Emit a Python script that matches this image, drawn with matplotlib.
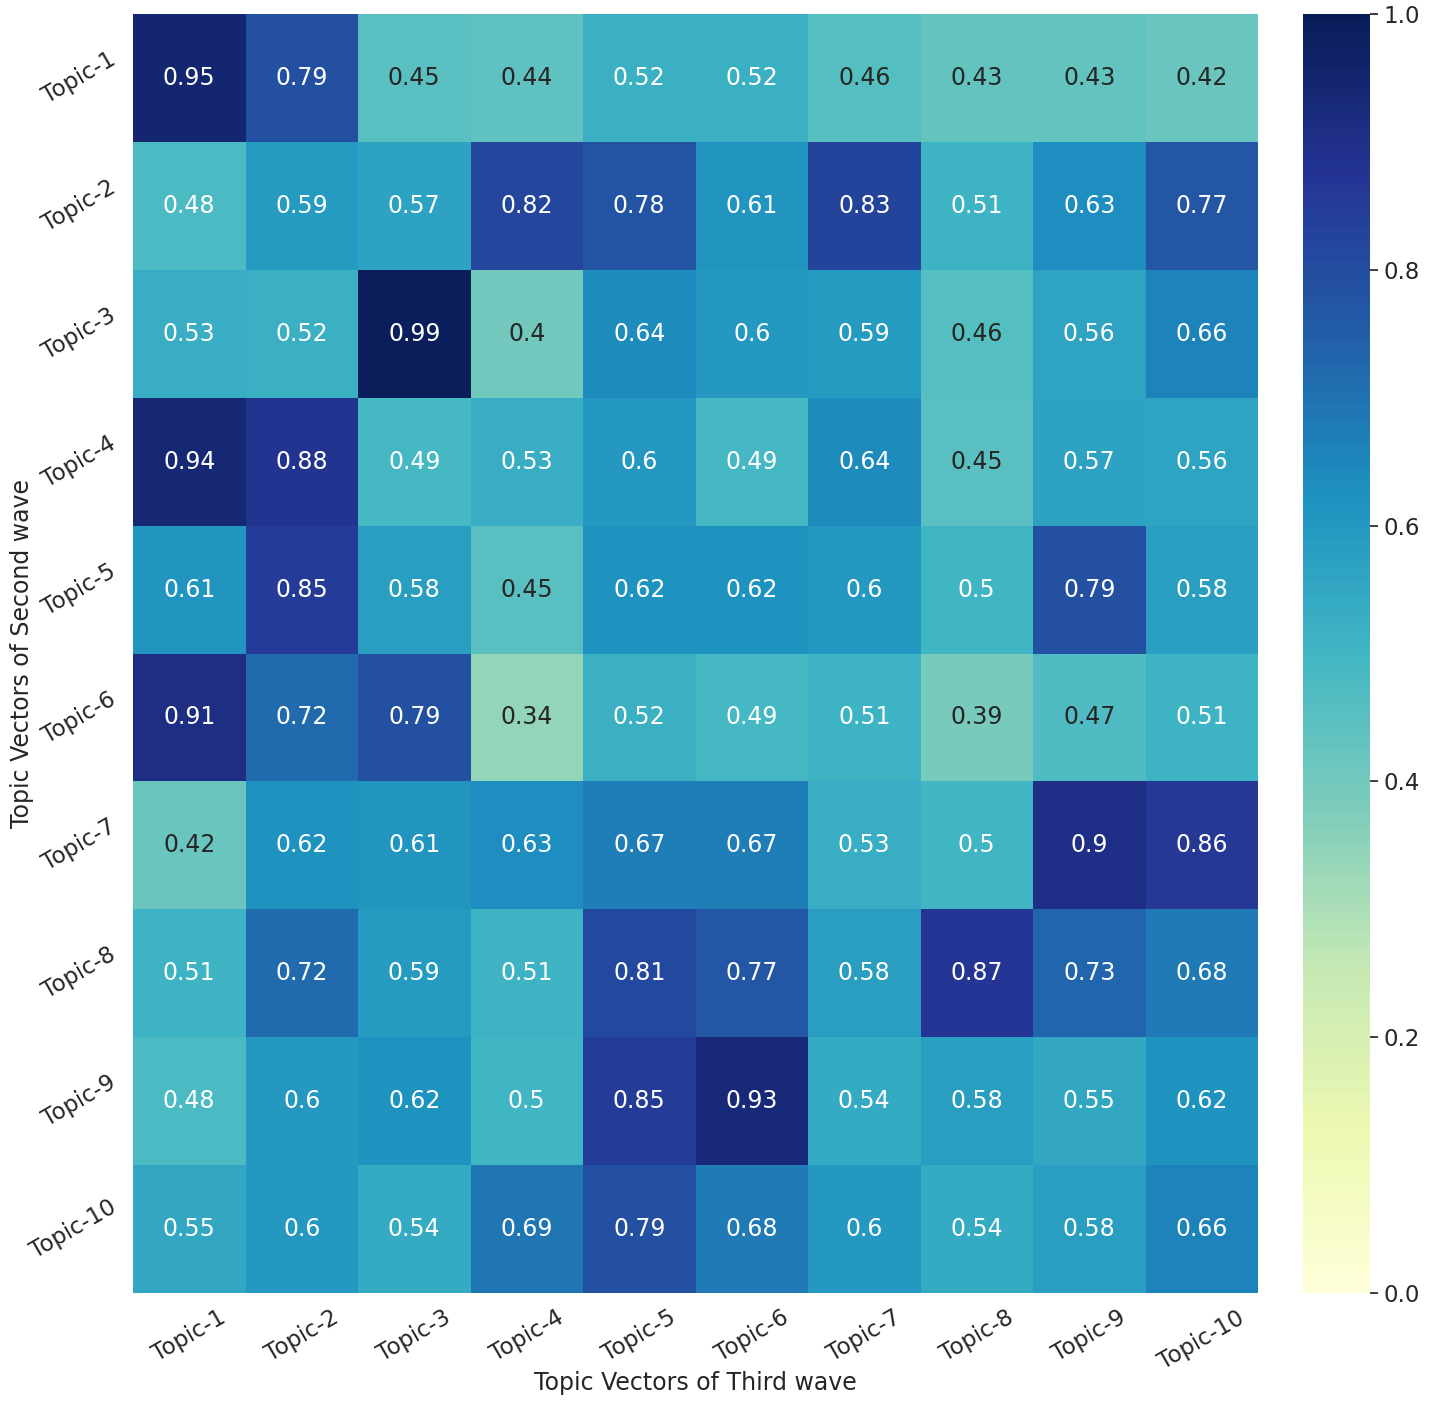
import matplotlib
matplotlib.use("Agg")
import matplotlib.pyplot as plt
import numpy as np
import seaborn as sns

topics = ["Topic-%d" % i for i in range(1, 11)]

# similarity between topic vectors (rows: second wave, cols: third wave)
row_1 = [0.95, 0.79, 0.45, 0.44, 0.52, 0.52, 0.46, 0.43, 0.43, 0.42]
row_2 = [0.48, 0.59, 0.57, 0.82, 0.78, 0.61, 0.83, 0.51, 0.63, 0.77]
row_3 = [0.53, 0.52, 0.99, 0.40, 0.64, 0.60, 0.59, 0.46, 0.56, 0.66]
row_4 = [0.94, 0.88, 0.49, 0.53, 0.60, 0.49, 0.64, 0.45, 0.57, 0.56]
row_5 = [0.61, 0.85, 0.58, 0.45, 0.62, 0.62, 0.60, 0.50, 0.79, 0.58]
row_6 = [0.91, 0.72, 0.79, 0.34, 0.52, 0.49, 0.51, 0.39, 0.47, 0.51]
row_7 = [0.42, 0.62, 0.61, 0.63, 0.67, 0.67, 0.53, 0.50, 0.90, 0.86]
row_8 = [0.51, 0.72, 0.59, 0.51, 0.81, 0.77, 0.58, 0.87, 0.73, 0.68]
row_9 = [0.48, 0.60, 0.62, 0.50, 0.85, 0.93, 0.54, 0.58, 0.55, 0.62]
row_10 = [0.55, 0.60, 0.54, 0.69, 0.79, 0.68, 0.60, 0.54, 0.58, 0.66]

sim = np.array([row_1, row_2, row_3, row_4, row_5,
                row_6, row_7, row_8, row_9, row_10])

sns.set(font_scale=1.5)
W, H = 1444, 1402
fig = plt.figure(figsize=(W / 100, H / 100), dpi=100)
ax = fig.add_axes([133 / W, 109 / H, 1125 / W, 1279 / H])
cax = fig.add_axes([1303 / W, 109 / H, 67 / W, 1279 / H])
sns.heatmap(sim, annot=True, cmap="YlGnBu", vmin=0, vmax=1,
            xticklabels=topics, yticklabels=topics, ax=ax, cbar_ax=cax,
            annot_kws={"size": 17})
ax.set_xlabel("Topic Vectors of Third wave", fontsize=17, labelpad=-2)
ax.set_ylabel("Topic Vectors of Second wave", fontsize=17, labelpad=-6)
plt.setp(ax.get_xticklabels(), rotation=30)
plt.setp(ax.get_yticklabels(), rotation=30)
plt.savefig("out.png")
